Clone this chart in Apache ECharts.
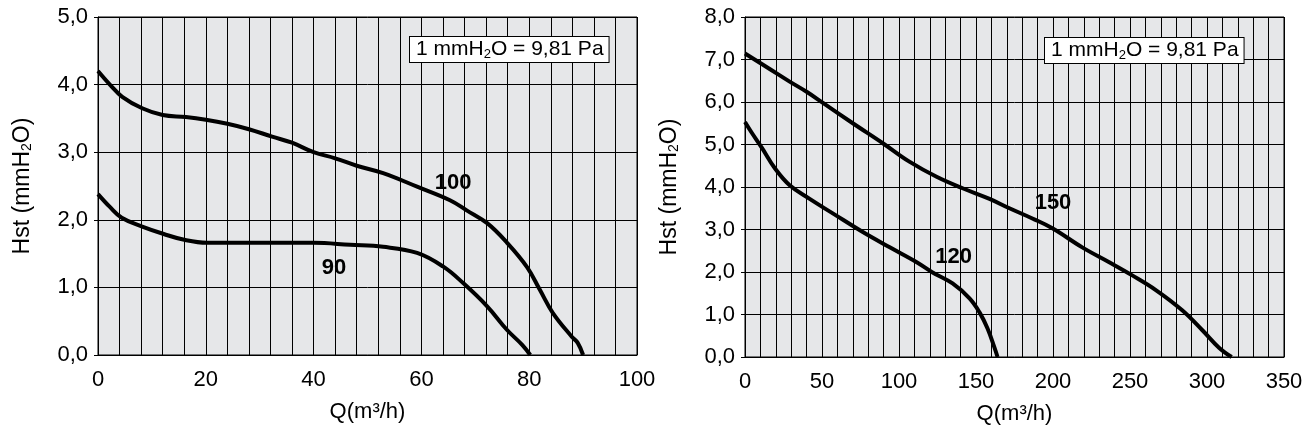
<!DOCTYPE html>
<html>
<head>
<meta charset="utf-8">
<script src="https://cdn.jsdelivr.net/npm/echarts@6/dist/echarts.min.js"></script>
<style>
  html, body { margin: 0; padding: 0; background: #fff; }
  #chart { width: 1310px; height: 437px; }
</style>
</head>
<body>
<div id="chart"></div>
<script>
// Kennlinien links (Q in m3/h, Hst in mmH2O)
var q100 = [0, 2.2, 4.5, 8.2, 12, 16.3, 20, 24, 28, 32.3, 36, 40, 44, 48, 52.9, 59.2, 65.3, 68.4, 72.2, 75.9, 79.6, 82, 84.4, 87.9, 89, 90];
var h100 = [4.2, 4.0, 3.82, 3.65, 3.55, 3.52, 3.48, 3.42, 3.34, 3.23, 3.14, 3.0, 2.91, 2.8, 2.69, 2.49, 2.29, 2.14, 1.95, 1.66, 1.30, 0.96, 0.62, 0.27, 0.18, 0];
var q90 = [0, 2.2, 4.4, 8.2, 12.2, 16.2, 20.2, 30, 40, 46.8, 52.9, 59.2, 64, 67.8, 72.2, 75.9, 78.7, 80.2];
var h90 = [2.38, 2.19, 2.03, 1.9, 1.79, 1.70, 1.66, 1.66, 1.66, 1.63, 1.60, 1.51, 1.31, 1.06, 0.72, 0.37, 0.15, 0];

// Kennlinien rechts
var q150 = [0, 15, 29, 40, 50.6, 70, 89.5, 107, 124.4, 141.3, 158.8, 171.7, 186.6, 199.6, 219, 236.5, 251.5, 267, 283.9, 297, 307.8, 316];
var h150 = [7.14, 6.8, 6.48, 6.24, 5.98, 5.5, 5.03, 4.59, 4.24, 3.97, 3.72, 3.50, 3.26, 3.03, 2.58, 2.23, 1.92, 1.57, 1.10, 0.63, 0.22, 0];
var q120 = [0, 4.5, 11, 19.4, 29, 42, 57, 76.5, 94, 111.5, 121.8, 134.8, 145.8, 152.3, 157.5, 162, 164];
var h120 = [5.53, 5.27, 4.92, 4.44, 4.04, 3.72, 3.38, 2.94, 2.58, 2.23, 1.99, 1.73, 1.38, 1.05, 0.67, 0.22, 0];

// Beschriftungen der Kurven [Q, H, Text]
var labelsLeft = [[65.9, 2.54, '100'], [43.8, 1.29, '90']];
var labelsRight = [[135.4, 2.35, '120'], [200, 3.62, '150']];

// Achsen
var xLeftMax = 100, xLeftStep = 4, xLeftLabelStep = 20;
var xRightMax = 350, xRightStep = 10, xRightLabelStep = 50;
var yLeftMax = 5, yRightMax = 8;

var FONT = '"Liberation Sans", Arial, Helvetica, sans-serif';

function pairs(q, h) {
  return q.map(function (v, i) { return [v, h[i]]; });
}

function xAxis(gridIndex, max, step, labelStep) {
  return {
    type: 'value', gridIndex: gridIndex, min: 0, max: max, interval: step,
    axisLine: { lineStyle: { color: '#000', width: 1 } },
    axisTick: { show: false },
    splitLine: { show: true, lineStyle: { color: '#000', width: 1 } },
    axisLabel: {
      color: '#000', fontFamily: FONT, fontSize: 22, margin: 14,
      formatter: function (v) { return v % labelStep === 0 ? String(v) : ''; }
    },
    name: 'Q(m³/h)', nameLocation: 'middle', nameGap: 46,
    nameTextStyle: { color: '#000', fontFamily: FONT, fontSize: 22 }
  };
}

function yAxis(gridIndex, max) {
  return {
    type: 'value', gridIndex: gridIndex, min: 0, max: max, interval: 1,
    axisLine: { show: true, lineStyle: { color: '#000', width: 1 } },
    axisTick: { show: true, length: 4, lineStyle: { color: '#000' } },
    splitLine: { show: true, lineStyle: { color: '#000', width: 1 } },
    axisLabel: {
      color: '#000', fontFamily: FONT, fontSize: 22, margin: 10,
      formatter: function (v) { return v.toFixed(1).replace('.', ','); }
    },
    name: 'Hst (mmH{sub|2}O)', nameLocation: 'middle', nameGap: 64,
    nameTextStyle: {
      color: '#000', fontFamily: FONT, fontSize: 23,
      rich: { sub: { fontSize: 14, fontFamily: FONT, color: '#000', padding: [0, 0, -9, 0] } }
    }
  };
}

function curve(xi, data) {
  return {
    type: 'line', xAxisIndex: xi, yAxisIndex: xi, data: data,
    smooth: 0.4, showSymbol: false, symbol: 'none',
    lineStyle: { color: '#000', width: 4 }, silent: true
  };
}

function labels(xi, list) {
  return {
    type: 'scatter', xAxisIndex: xi, yAxisIndex: xi, symbolSize: 0, silent: true,
    itemStyle: { opacity: 1, color: '#000' },
    data: list.map(function (l) { return { value: [l[0], l[1]], name: l[2] }; }),
    label: {
      show: true, position: 'inside', formatter: '{b}', opacity: 1,
      color: '#000', fontFamily: FONT, fontSize: 22, fontWeight: 'bold',
      textBorderWidth: 0
    }
  };
}

function noteBox(left, top) {
  return {
    type: 'text', left: left, top: top, z: 100,
    style: {
      text: '1 mmH{sub|2}O = 9,81 Pa',
      fontFamily: FONT, fontSize: 21, fill: '#000',
      backgroundColor: '#fff', borderColor: '#000', borderWidth: 1,
      padding: [2, 5, 2, 6],
      rich: { sub: { fontSize: 13, fontFamily: FONT, fill: '#000', padding: [0, 0, -9, 0] } }
    }
  };
}

var chart = echarts.init(document.getElementById('chart'));
chart.setOption({
  animation: false,
  backgroundColor: '#fff',
  grid: [
    { left: 98, top: 17, width: 539, height: 338, show: true, backgroundColor: '#e6e7e9', borderColor: '#000', borderWidth: 1 },
    { left: 745, top: 17, width: 539, height: 340, show: true, backgroundColor: '#e6e7e9', borderColor: '#000', borderWidth: 1 }
  ],
  xAxis: [
    xAxis(0, xLeftMax, xLeftStep, xLeftLabelStep),
    xAxis(1, xRightMax, xRightStep, xRightLabelStep)
  ],
  yAxis: [yAxis(0, yLeftMax), yAxis(1, yRightMax)],
  series: [
    curve(0, pairs(q100, h100)),
    curve(0, pairs(q90, h90)),
    curve(1, pairs(q150, h150)),
    curve(1, pairs(q120, h120)),
    labels(0, labelsLeft),
    labels(1, labelsRight)
  ],
  graphic: [noteBox(409, 36), noteBox(1044, 37)]
});
</script>
</body>
</html>
